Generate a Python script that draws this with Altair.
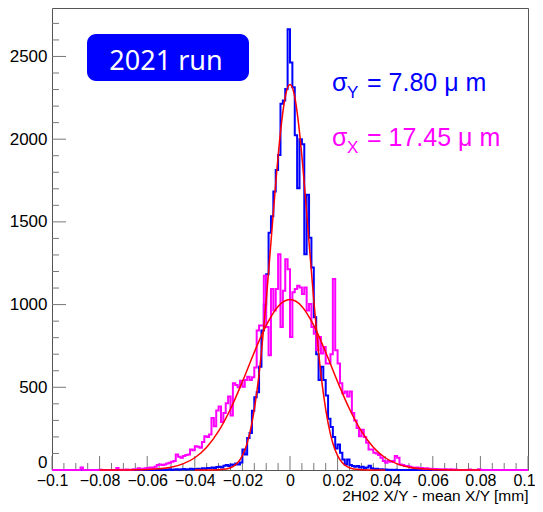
import altair as alt
import numpy as np
import pandas as pd

# ---------------- data ----------------
X_MIN, X_MAX, N_BINS = -0.1, 0.1, 200
Y_MAX = 2793

# Y residuals (blue histogram), 200 bins of 0.001 mm
blue_counts = [
    0, 0, 0, 0, 0, 0, 0, 0, 0, 0,
    0, 0, 0, 0, 0, 0, 0, 0, 0, 0,
    0, 0, 0, 0, 0, 0, 0, 0, 0, 0,
    0, 0, 0, 0, 0, 0, 0, 0, 0, 0,
    0, 0, 0, 0, 2, 0, 3, 0, 2, 4,
    0, 3, 5, 2, 4, 6, 3, 5, 8, 4,
    6, 8, 5, 10, 8, 12, 10, 15, 12, 18,
    20, 15, 25, 30, 24, 34, 30, 40, 34, 45,
    124, 94, 194, 224, 358, 440, 470, 624, 844, 1000,
    1184, 1434, 1534, 1684, 1814, 1904, 2214, 2234, 2304, 2664,
    2464, 2314, 2024, 1704, 2000, 1970, 1304, 1664, 1404, 1224,
    924, 700, 544, 624, 544, 450, 310, 260, 200, 130,
    154, 104, 64, 34, 64, 30, 24, 20, 24, 15,
    20, 10, 15, 25, 10, 5, 8, 3, 5, 2,
    3, 0, 2, 0, 2, 0, 0, 0, 0, 0,
    0, 0, 0, 0, 0, 0, 0, 0, 0, 0,
    0, 0, 0, 0, 0, 0, 0, 0, 0, 0,
    0, 0, 0, 0, 0, 0, 0, 0, 0, 0,
    0, 0, 0, 0, 0, 0, 0, 0, 0, 0,
    0, 0, 0, 0, 0, 0, 0, 0, 0, 0,
]

# X residuals (magenta histogram)
magenta_counts = [
    0, 0, 0, 0, 0, 0, 0, 0, 0, 0,
    0, 0, 15, 0, 0, 0, 0, 0, 0, 0,
    2, 0, 0, 0, 0, 0, 0, 12, 0, 2,
    0, 3, 0, 2, 4, 5, 10, 5, 8, 10,
    12, 15, 10, 20, 30, 34, 30, 34, 40, 44,
    50, 54, 94, 80, 74, 84, 90, 94, 124, 120,
    144, 140, 134, 170, 204, 200, 214, 314, 264, 360,
    384, 290, 344, 404, 444, 330, 524, 514, 500, 540,
    504, 544, 564, 544, 560, 620, 844, 874, 874, 1174,
    864, 694, 1094, 964, 1094, 1304, 864, 1084, 1274, 1214,
    804, 1074, 1094, 1114, 1104, 1064, 1104, 964, 1004, 864,
    824, 724, 804, 704, 744, 644, 644, 700, 1154, 724,
    644, 524, 464, 474, 444, 474, 344, 300, 254, 204,
    244, 200, 164, 124, 124, 104, 100, 90, 74, 54,
    44, 54, 50, 54, 84, 74, 34, 30, 24, 24,
    20, 15, 12, 15, 10, 12, 8, 10, 6, 8,
    5, 6, 4, 5, 3, 4, 2, 5, 2, 3,
    0, 0, 0, 0, 0, 3, 0, 0, 0, 4,
    0, 0, 0, 0, 0, 0, 0, 0, 0, 0,
    0, 0, 0, 0, 0, 0, 0, 0, 0, 0,
]

# red fit curve over the Y histogram
fitY_x = [-0.040, -0.035, -0.030, -0.028, -0.026, -0.024, -0.022, -0.020, -0.018,
          -0.016, -0.014, -0.012, -0.010, -0.008, -0.006, -0.004, -0.002, 0.0,
          0.002, 0.004, 0.006, 0.008, 0.010, 0.012, 0.014, 0.016, 0.018,
          0.020, 0.022, 0.024, 0.026, 0.028, 0.030, 0.035, 0.040]
fitY_v = [0, 0.3, 1.5, 4, 9, 20, 44, 87, 162,
          284, 465, 713, 1024, 1377, 1733, 2043, 2255, 2330,
          2255, 2043, 1733, 1377, 1024, 713, 465, 284, 162,
          87, 44, 20, 9, 4, 1.5, 0.3, 0]

# red fit curve over the X histogram
fitX_x = [-0.080, -0.075, -0.070, -0.065, -0.060, -0.055, -0.050, -0.045, -0.040,
          -0.035, -0.030, -0.025, -0.020, -0.015, -0.010, -0.005, 0.0,
          0.005, 0.010, 0.015, 0.020, 0.025, 0.030, 0.035, 0.040,
          0.045, 0.050, 0.055, 0.060, 0.065, 0.070, 0.075, 0.080]
fitX_v = [0, 0.1, 0.3, 1, 2.8, 7, 17, 37, 74,
          138, 235, 369, 534, 712, 874, 989, 1030,
          989, 874, 712, 534, 369, 235, 138, 74,
          37, 17, 7, 2.8, 1, 0.3, 0.1, 0]

x_label_values = [-0.1, -0.08, -0.06, -0.04, -0.02, 0.0, 0.02, 0.04, 0.06, 0.08, 0.1]
y_label_values = [0, 500, 1000, 1500, 2000, 2500]

# ---------------- build tables ----------------
assert len(blue_counts) == N_BINS and len(magenta_counts) == N_BINS
edges = np.round(np.linspace(X_MIN, X_MAX, N_BINS + 1), 6)


def hist_df(counts):
    return pd.DataFrame({"x": edges, "y": list(counts) + [counts[-1]]})


df_blue = hist_df(blue_counts)
df_mag = hist_df(magenta_counts)
df_fitY = pd.DataFrame({"x": fitY_x, "y": fitY_v})
df_fitX = pd.DataFrame({"x": fitX_x, "y": fitX_v})

x_minor = [v for v in np.round(np.arange(X_MIN, X_MAX + 1e-9, 0.005), 4)
           if not any(abs(v - m) < 1e-9 for m in x_label_values)]
y_minor = [v for v in range(0, 2800, 100) if v % 500 != 0]
df_xmaj = pd.DataFrame({"x": x_label_values})
df_xmin = pd.DataFrame({"x": x_minor})
df_ymaj = pd.DataFrame({"y": y_label_values})
df_ymin = pd.DataFrame({"y": y_minor})
one = pd.DataFrame({"a": [0]})

W, H = 476, 462
FONT = "Liberation Sans"

xscale = alt.Scale(domain=[X_MIN, X_MAX], nice=False, zero=False)
yscale = alt.Scale(domain=[0, Y_MAX], nice=False, zero=False)
xaxis = alt.Axis(values=x_label_values, format="~g", ticks=False, domain=False, grid=False,
                 labelFont=FONT, labelFontSize=16, labelColor="#000", labelPadding=2,
                 labelFlush=False, labelOverlap=False, labelBound=False,
                 labelOffset={"condition": {"test": "datum.value >= 0.099", "value": -4},
                              "value": 0},
                 title="2H02 X/Y - mean X/Y [mm]", titleFont=FONT, titleFontSize=15.5,
                 titleFontWeight="normal", titleColor="#000", titleX=W, titleY=30.5,
                 titleAlign="right", titleBaseline="alphabetic")
yaxis = alt.Axis(values=y_label_values, format="d", ticks=False, domain=False, grid=False,
                 labelFont=FONT, labelFontSize=17, labelColor="#000", labelPadding=5,
                 labelOffset={"condition": {"test": "datum.value == 0", "value": -8},
                              "value": 0},
                 labelOverlap=False, title=None)

xenc = alt.X("x:Q", scale=xscale, axis=xaxis)
yenc = alt.Y("y:Q", scale=yscale, axis=yaxis)

TICK = "#777"
xmaj = alt.Chart(df_xmaj).mark_rule(color=TICK, strokeWidth=1).encode(
    x=xenc, y=alt.value(H), y2=alt.value(H - 14))
xmin = alt.Chart(df_xmin).mark_rule(color=TICK, strokeWidth=1).encode(
    x=xenc, y=alt.value(H), y2=alt.value(H - 7))
ymaj = alt.Chart(df_ymaj).mark_rule(color=TICK, strokeWidth=1).encode(
    y=yenc, x=alt.value(0), x2=alt.value(14))
ymin = alt.Chart(df_ymin).mark_rule(color=TICK, strokeWidth=1).encode(
    y=yenc, x=alt.value(0), x2=alt.value(7))

blue = alt.Chart(df_blue).mark_line(interpolate="step-after", color="#0000ff",
                                    strokeWidth=2, strokeJoin="miter").encode(x=xenc, y=yenc)
mag = alt.Chart(df_mag).mark_line(interpolate="step-after", color="#ff00ff",
                                  strokeWidth=2, strokeJoin="miter").encode(x=xenc, y=yenc)
fitY = alt.Chart(df_fitY).mark_line(interpolate="monotone", color="#ff0000",
                                    strokeWidth=1.5).encode(x=xenc, y=yenc)
fitX = alt.Chart(df_fitX).mark_line(interpolate="monotone", color="#ff0000",
                                    strokeWidth=1.5).encode(x=xenc, y=yenc)

box = alt.Chart(one).mark_rect(color="#0000ff", cornerRadius=9).encode(
    x=alt.value(35), x2=alt.value(197), y=alt.value(26), y2=alt.value(73))
box_text = alt.Chart(one).mark_text(font="Noto Sans", fontSize=27, color="white",
                                    align="center", baseline="alphabetic").encode(
    x=alt.value(114), y=alt.value(62), text=alt.value("2021 run"))

BLUE_T = "#0000ff"
MAG_T = "#ff00ff"


def txt(s, x, y, size, color):
    return alt.Chart(one).mark_text(font=FONT, fontSize=size, color=color,
                                    align="left", baseline="alphabetic").encode(
        x=alt.value(x), y=alt.value(y), text=alt.value(s))


annot = [
    txt("σ", 280, 83, 25, BLUE_T), txt("Y", 295, 90, 17, BLUE_T),
    txt("= 7.80 μ m", 315, 83, 25, BLUE_T),
    txt("σ", 280, 138, 25, MAG_T), txt("X", 295, 145, 17, MAG_T),
    txt("= 17.45 μ m", 315, 138, 25, MAG_T),
]

chart = alt.layer(
    xmaj, xmin, ymaj, ymin, blue, mag, fitY, fitX, box, box_text, *annot
).properties(
    width=W, height=H,
    autosize=alt.AutoSizeParams(type="none"),
    padding={"left": 44, "top": 0, "right": 7, "bottom": 34},
    background="white",
).configure_view(stroke="#555", strokeWidth=1)

chart.save("out.html", embed_options={"renderer": "svg", "actions": False})
